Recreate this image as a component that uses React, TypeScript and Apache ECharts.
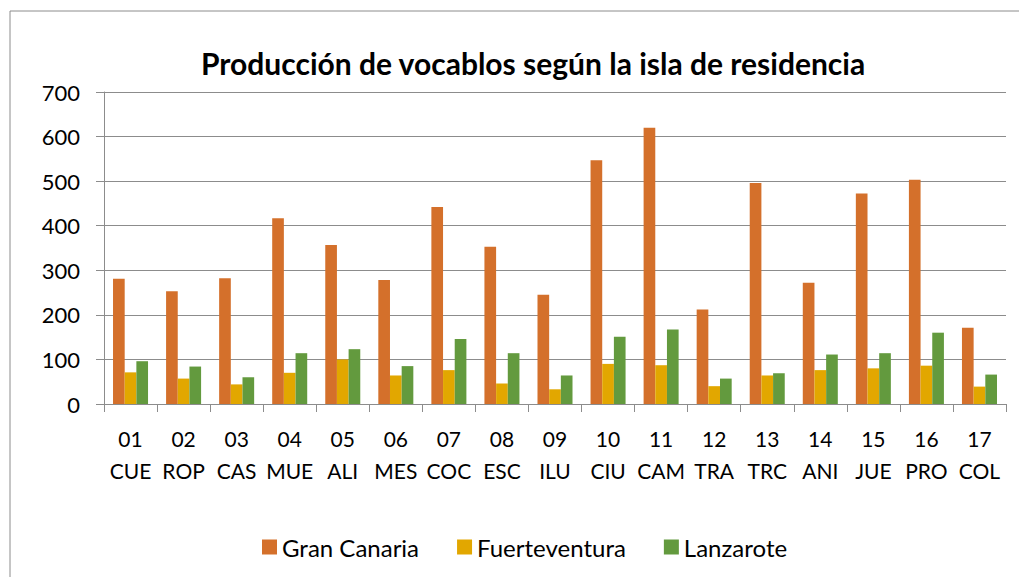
import React, { useEffect, useRef } from "react";
import * as echarts from "echarts";

const categories = [
  "01\nCUE", "02\nROP", "03\nCAS", "04\nMUE", "05\nALI", "06\nMES", "07\nCOC", "08\nESC", "09\nILU",
  "10\nCIU", "11\nCAM", "12\nTRA", "13\nTRC", "14\nANI", "15\nJUE", "16\nPRO", "17\nCOL",
];
const granCanaria = [281, 253, 282, 417, 357, 278, 442, 353, 245, 547, 620, 212, 496, 272, 472, 503, 171];
const fuerteventura = [71, 57, 44, 70, 100, 64, 76, 46, 33, 90, 87, 40, 64, 76, 80, 86, 39];
const lanzarote = [96, 84, 60, 114, 123, 85, 146, 114, 64, 151, 167, 57, 69, 111, 114, 160, 66];
const seriesNames = ["Gran Canaria", "Fuerteventura", "Lanzarote"];
const colors = ["#D4702B", "#E2A700", "#639A3E"];

const FONT = "Lato, 'Open Sans', sans-serif";

export default function App() {
  const ref = useRef<HTMLDivElement>(null);
  useEffect(() => {
    if (!ref.current) return;
    const chart = echarts.init(ref.current, undefined, { renderer: "svg" });
    const values = [granCanaria, fuerteventura, lanzarote];
    chart.setOption({
      animation: false,
      backgroundColor: "#fff",
      textStyle: { fontFamily: FONT },
      title: {
        text: "Producción de vocablos según la isla de residencia",
        left: 196,
        top: 43,
        textStyle: { fontFamily: FONT, fontSize: 30, fontWeight: "bold", color: "#000" },
      },
      graphic: [
        {
          type: "rect",
          shape: { x: 10, y: 11, width: 1030, height: 620 },
          style: { fill: "none", stroke: "#8c8c8c", lineWidth: 1 },
          silent: true,
        },
      ],
      legend: {
        data: seriesNames,
        bottom: 13,
        left: 257,
        itemWidth: 15,
        itemHeight: 15,
        itemGap: 38,
        icon: "rect",
        textStyle: { fontFamily: FONT, fontSize: 24, color: "#000" },
      },
      grid: { left: 104, right: 13, top: 92, bottom: 173, containLabel: false },
      xAxis: {
        type: "category",
        data: categories,
        axisLine: { lineStyle: { color: "#8c8c8c", width: 1 } },
        axisTick: { show: true, length: 8, lineStyle: { color: "#8c8c8c" } },
        axisLabel: {
          interval: 0,
          margin: 18,
          fontSize: 21,
          lineHeight: 32,
          color: "#000",
          fontFamily: FONT,
        },
      },
      yAxis: {
        type: "value",
        min: 0,
        max: 700,
        interval: 100,
        axisLine: { show: true, lineStyle: { color: "#8c8c8c", width: 1 } },
        axisTick: { show: true, length: 8, lineStyle: { color: "#8c8c8c" } },
        splitLine: { lineStyle: { color: "#8c8c8c", width: 1 } },
        axisLabel: { fontSize: 22, color: "#000", margin: 24, fontFamily: FONT },
      },
      series: seriesNames.map((name, i) => ({
        name,
        type: "bar",
        data: values[i],
        barGap: "0%",
        barCategoryGap: "34%",
        itemStyle: { color: colors[i] },
      })),
    });
    return () => chart.dispose();
  }, []);
  return <div ref={ref} style={{ width: 1019, height: 577, position: "absolute", left: 0, top: 0 }} />;
}
